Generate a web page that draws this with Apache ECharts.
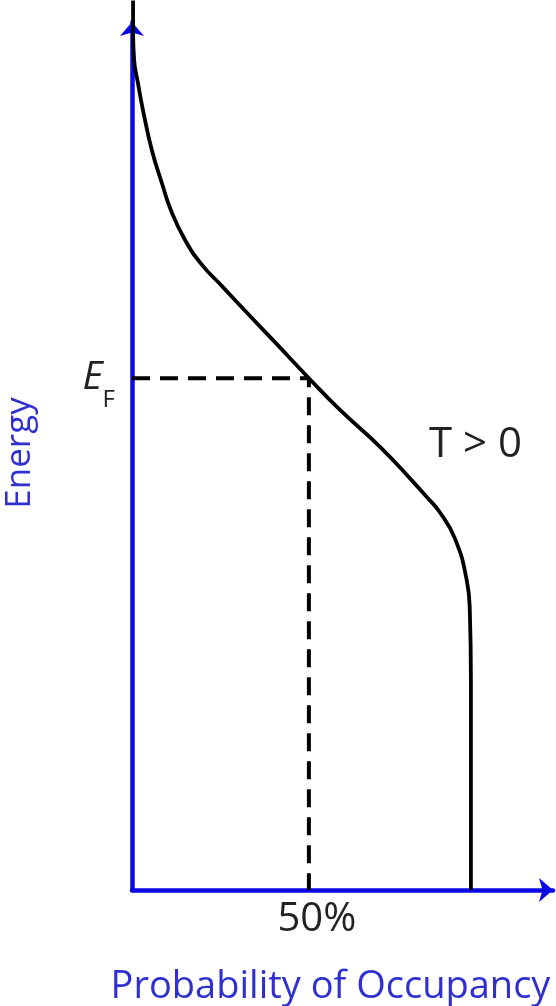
<!DOCTYPE html>
<html>
<head>
<meta charset="utf-8">
<script src="https://cdn.jsdelivr.net/npm/echarts@6/dist/echarts.min.js"></script>
<style>
    html, body { margin: 0; padding: 0; background: #fff; }
    #chart { width: 556px; height: 1006px; }
</style>
</head>
<body>
<div id="chart"></div>
<script>
// occupancy probability (fraction) vs energy (arbitrary units, E_F = 0)
var probability = [0.003, 0.003, 0.006, 0.017, 0.031, 0.056, 0.085, 0.110, 0.150, 0.195, 0.257, 0.333, 0.410, 0.5, 0.588, 0.701, 0.794, 0.833, 0.870, 0.912, 0.946, 0.955, 0.958, 0.958];
var energy = [3.69, 3.40, 3.11, 2.88, 2.62, 2.23, 1.90, 1.64, 1.35, 1.12, 0.89, 0.61, 0.33, 0, -0.31, -0.67, -1.01, -1.16, -1.31, -1.56, -1.97, -2.29, -2.95, -5.0];
var fermiLevel = 0;
var halfOccupancy = 0.5;

var blue = '#0a0ae6';
var textBlue = '#3030d0';
var font = 'Open Sans';

var curve = probability.map(function(p, i) {
    return [p, energy[i]];
});

var option = {
    animation: false,
    grid: {
        left: 132,
        right: 3,
        top: 22,
        bottom: 116,
        outerBoundsMode: 'none'
    },
    xAxis: {
        type: 'value',
        min: 0,
        max: 1.19,
        interval: halfOccupancy,
        name: 'Probability of Occupancy',
        nameLocation: 'middle',
        nameGap: 78,
        nameTextStyle: {
            color: textBlue,
            fontSize: 38,
            fontFamily: font,
            padding: [0, 24, 0, 0]
        },
        axisLine: {
            onZero: false,
            symbol: ['none', 'arrow'],
            symbolSize: [18, 14],
            lineStyle: { color: blue, width: 4.5 }
        },
        axisTick: { show: false },
        splitLine: { show: false },
        axisLabel: {
            margin: 10,
            color: '#222',
            fontSize: 40,
            fontFamily: font,
            padding: [0, 0, 0, 16],
            formatter: function(v) {
                return v === halfOccupancy ? '50%' : '';
            }
        }
    },
    yAxis: {
        type: 'value',
        min: -5,
        max: 3.48,
        interval: 5,
        name: 'Energy',
        nameLocation: 'middle',
        nameRotate: 90,
        nameGap: 94,
        nameTextStyle: {
            color: textBlue,
            fontSize: 35,
            fontFamily: font,
            padding: [0, 0, 0, 6]
        },
        axisLine: {
            onZero: false,
            symbol: ['none', 'arrow'],
            symbolSize: [18, 14],
            lineStyle: { color: blue, width: 4.5 }
        },
        axisTick: { show: false },
        splitLine: { show: false },
        axisLabel: {
            margin: 17,
            formatter: function(v) {
                return v === fermiLevel ? '{e|E}{f|F}' : '';
            },
            rich: {
                e: {
                    fontSize: 39,
                    fontStyle: 'italic',
                    fontFamily: font,
                    color: '#222',
                    verticalAlign: 'middle'
                },
                f: {
                    fontSize: 24,
                    fontFamily: font,
                    color: '#222',
                    verticalAlign: 'bottom',
                    padding: [44, 0, 0, 0]
                }
            }
        }
    },
    graphic: [{
        type: 'text',
        left: 429,
        top: 424,
        style: {
            text: 'T > 0',
            fontSize: 42,
            fontFamily: font,
            fill: '#222'
        }
    }],
    series: [{
        type: 'line',
        data: [[0, fermiLevel], [halfOccupancy, fermiLevel], [halfOccupancy, -5]],
        symbol: 'none',
        lineStyle: { color: '#000', width: 4, type: [18, 10] },
        z: 3
    }, {
        type: 'line',
        data: curve,
        smooth: 0.5,
        symbol: 'none',
        clip: false,
        lineStyle: { color: '#000', width: 3.8 },
        z: 4
    }]
};

echarts.init(document.getElementById('chart')).setOption(option);
</script>
</body>
</html>
